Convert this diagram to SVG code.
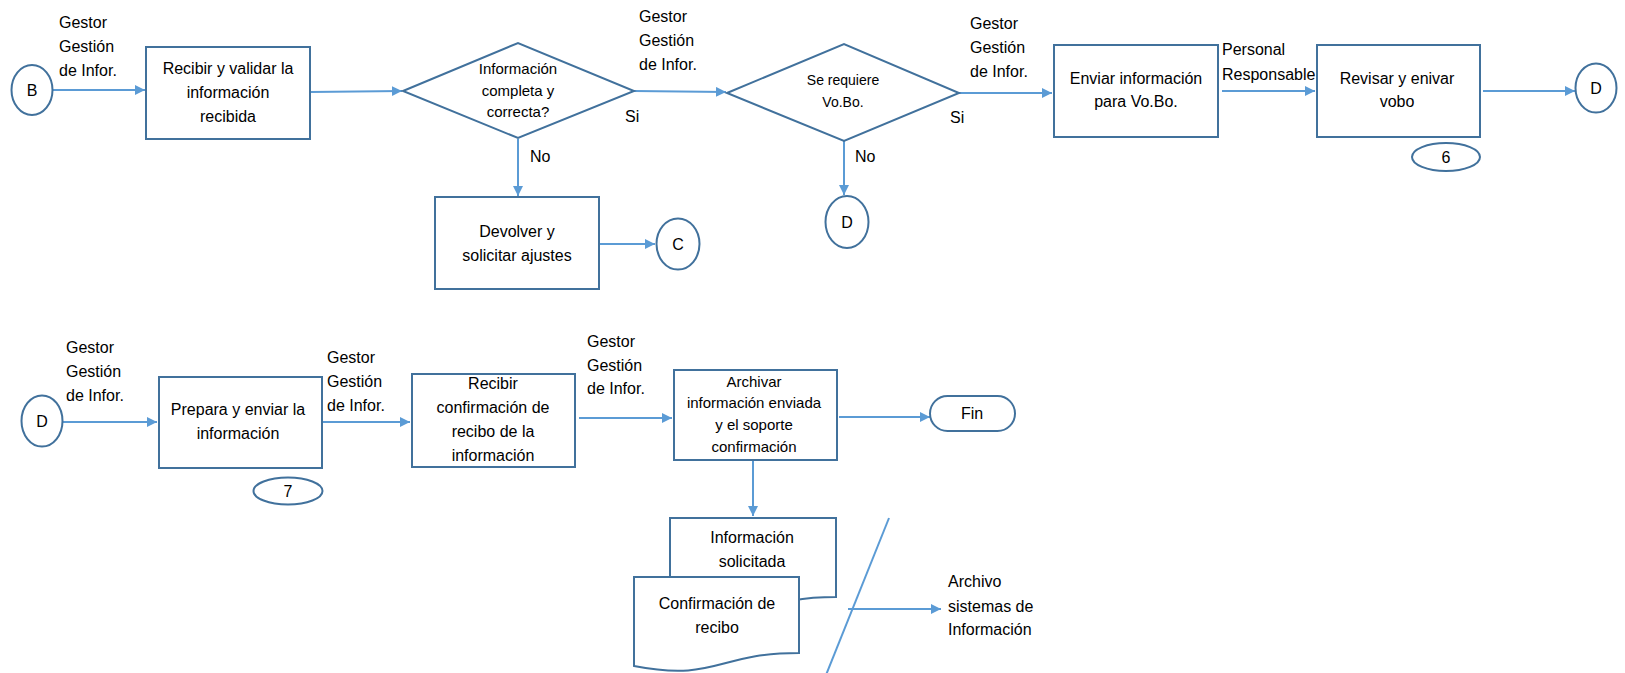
<svg xmlns="http://www.w3.org/2000/svg" width="1625" height="673" viewBox="0 0 1625 673">
  <defs>
    <marker id="arrow" markerUnits="userSpaceOnUse" markerWidth="11" markerHeight="11" refX="10" refY="5" orient="auto">
      <path d="M0,0 L10,5 L0,10 z" fill="#5B9BD5"/>
    </marker>
    <style>
      .shape { fill: #FFFFFF; stroke: #41719C; stroke-width: 2; }
      .conn { fill: none; stroke: #5B9BD5; stroke-width: 2; marker-end: url(#arrow); }
      .line { fill: none; stroke: #5B9BD5; stroke-width: 2; }
      text { font-family: "Liberation Sans", Arial, sans-serif; font-size: 16px; fill: #000000; }
      .c { text-anchor: middle; }
      .s15 { font-size: 15px; }
      .s14 { font-size: 14px; }
    </style>
  </defs>

  <rect width="1625" height="673" fill="#FFFFFF"/>

  <!-- connectors -->
  <g id="connectors">
    <line class="conn" x1="53" y1="90" x2="145" y2="90"/>
    <line class="conn" x1="310" y1="92" x2="402" y2="91"/>
    <line class="conn" x1="634" y1="91" x2="726" y2="92"/>
    <line class="conn" x1="518" y1="139" x2="518" y2="196"/>
    <line class="conn" x1="599" y1="244" x2="655" y2="244"/>
    <line class="conn" x1="959" y1="93" x2="1052" y2="93"/>
    <line class="conn" x1="844" y1="141" x2="844" y2="195"/>
    <line class="conn" x1="1222" y1="91" x2="1315" y2="91"/>
    <line class="conn" x1="1483" y1="91" x2="1575" y2="91"/>
    <line class="conn" x1="63" y1="422" x2="157" y2="422"/>
    <line class="conn" x1="322" y1="422" x2="410" y2="422"/>
    <line class="conn" x1="579" y1="418" x2="672" y2="418"/>
    <line class="conn" x1="839" y1="417" x2="930" y2="417"/>
    <line class="conn" x1="753" y1="460" x2="753" y2="516"/>
    <line class="conn" x1="848" y1="609" x2="941" y2="609"/>
    <line class="line" x1="889" y1="518" x2="826" y2="675"/>
  </g>

  <!-- lane / role labels -->
  <g id="labels">
    <text x="59" y="28">Gestor</text>
    <text x="59" y="52">Gestión</text>
    <text x="59" y="76">de Infor.</text>

    <text x="639" y="22">Gestor</text>
    <text x="639" y="46">Gestión</text>
    <text x="639" y="70">de Infor.</text>
    <text x="625" y="122">Si</text>
    <text x="530" y="162">No</text>

    <text x="970" y="29">Gestor</text>
    <text x="970" y="53">Gestión</text>
    <text x="970" y="77">de Infor.</text>
    <text x="950" y="123">Si</text>
    <text x="855" y="162">No</text>

    <text x="1222" y="55">Personal</text>
    <text x="1222" y="80">Responsable</text>

    <text x="66" y="353">Gestor</text>
    <text x="66" y="377">Gestión</text>
    <text x="66" y="401">de Infor.</text>

    <text x="327" y="363">Gestor</text>
    <text x="327" y="387">Gestión</text>
    <text x="327" y="411">de Infor.</text>

    <text x="587" y="347">Gestor</text>
    <text x="587" y="371">Gestión</text>
    <text x="587" y="394">de Infor.</text>

    <text x="948" y="587">Archivo</text>
    <text x="948" y="612">sistemas de</text>
    <text x="948" y="635">Información</text>
  </g>

  <!-- connector B -->
  <g id="node-b">
    <ellipse class="shape" cx="32" cy="90" rx="20.5" ry="25"/>
    <text class="c" x="32" y="96">B</text>
  </g>

  <g id="node-recibir-validar">
    <rect class="shape" x="146" y="47" width="164" height="92"/>
    <text class="c" x="228" y="74">Recibir y validar la</text>
    <text class="c" x="228" y="98">información</text>
    <text class="c" x="228" y="122">recibida</text>
  </g>

  <g id="node-info-completa">
    <polygon class="shape" points="403,91 518,43 634,91 518,138"/>
    <text class="c s15" x="518" y="74">Información</text>
    <text class="c s15" x="518" y="96">completa y</text>
    <text class="c s15" x="518" y="117">correcta?</text>
  </g>

  <g id="node-devolver">
    <rect class="shape" x="435" y="197" width="164" height="92"/>
    <text class="c" x="517" y="237">Devolver y</text>
    <text class="c" x="517" y="261">solicitar ajustes</text>
  </g>

  <g id="node-c">
    <ellipse class="shape" cx="678" cy="244" rx="21.5" ry="25.5"/>
    <text class="c" x="678" y="250">C</text>
  </g>

  <g id="node-requiere-vobo">
    <polygon class="shape" points="727,93 844,44 959,93 844,141"/>
    <text class="c s14" x="843" y="85">Se requiere</text>
    <text class="c s14" x="843" y="107">Vo.Bo.</text>
  </g>

  <g id="node-d-no">
    <ellipse class="shape" cx="847" cy="222" rx="21.5" ry="26"/>
    <text class="c" x="847" y="228">D</text>
  </g>

  <g id="node-enviar-vobo">
    <rect class="shape" x="1054" y="45" width="164" height="92"/>
    <text class="c" x="1136" y="84">Enviar información</text>
    <text class="c" x="1136" y="107">para Vo.Bo.</text>
  </g>

  <g id="node-revisar">
    <rect class="shape" x="1317" y="45" width="163" height="92"/>
    <text class="c" x="1397" y="84">Revisar y enivar</text>
    <text class="c" x="1397" y="107">vobo</text>
  </g>

  <g id="node-step-6">
    <ellipse class="shape" cx="1446" cy="157" rx="34" ry="14"/>
    <text class="c" x="1446" y="163">6</text>
  </g>

  <g id="node-d-out">
    <ellipse class="shape" cx="1596" cy="88" rx="20.5" ry="24.5"/>
    <text class="c" x="1596" y="94">D</text>
  </g>

  <g id="node-d-in">
    <ellipse class="shape" cx="42" cy="421" rx="20.5" ry="25.5"/>
    <text class="c" x="42" y="427">D</text>
  </g>

  <g id="node-prepara">
    <rect class="shape" x="159" y="377" width="163" height="91"/>
    <text class="c" x="238" y="415">Prepara y enviar la</text>
    <text class="c" x="238" y="439">información</text>
  </g>

  <g id="node-step-7">
    <ellipse class="shape" cx="288" cy="491" rx="34.5" ry="13.5"/>
    <text class="c" x="288" y="497">7</text>
  </g>

  <g id="node-recibir-confirmacion">
    <rect class="shape" x="412" y="374" width="163" height="93"/>
    <text class="c" x="493" y="389">Recibir</text>
    <text class="c" x="493" y="413">confirmación de</text>
    <text class="c" x="493" y="437">recibo de la</text>
    <text class="c" x="493" y="461">información</text>
  </g>

  <g id="node-archivar">
    <rect class="shape" x="674" y="370" width="163" height="90"/>
    <text class="c s15" x="754" y="387">Archivar</text>
    <text class="c s15" x="754" y="408">información enviada</text>
    <text class="c s15" x="754" y="430">y el soporte</text>
    <text class="c s15" x="754" y="452">confirmación</text>
  </g>

  <g id="node-fin">
    <rect class="shape" x="930" y="396" width="85" height="35" rx="17.5" ry="17.5"/>
    <text class="c" x="972" y="419">Fin</text>
  </g>

  <g id="node-info-solicitada">
    <path class="shape" d="M670,518 H836 V597 C753,597 753,627 670,610 Z"/>
    <text class="c" x="752" y="543">Información</text>
    <text class="c" x="752" y="567">solicitada</text>
  </g>

  <g id="node-confirmacion-recibo">
    <path class="shape" d="M634,577 H799 V653 C716.5,653 716.5,682 634,666 Z"/>
    <text class="c" x="717" y="609">Confirmación de</text>
    <text class="c" x="717" y="633">recibo</text>
  </g>
</svg>
